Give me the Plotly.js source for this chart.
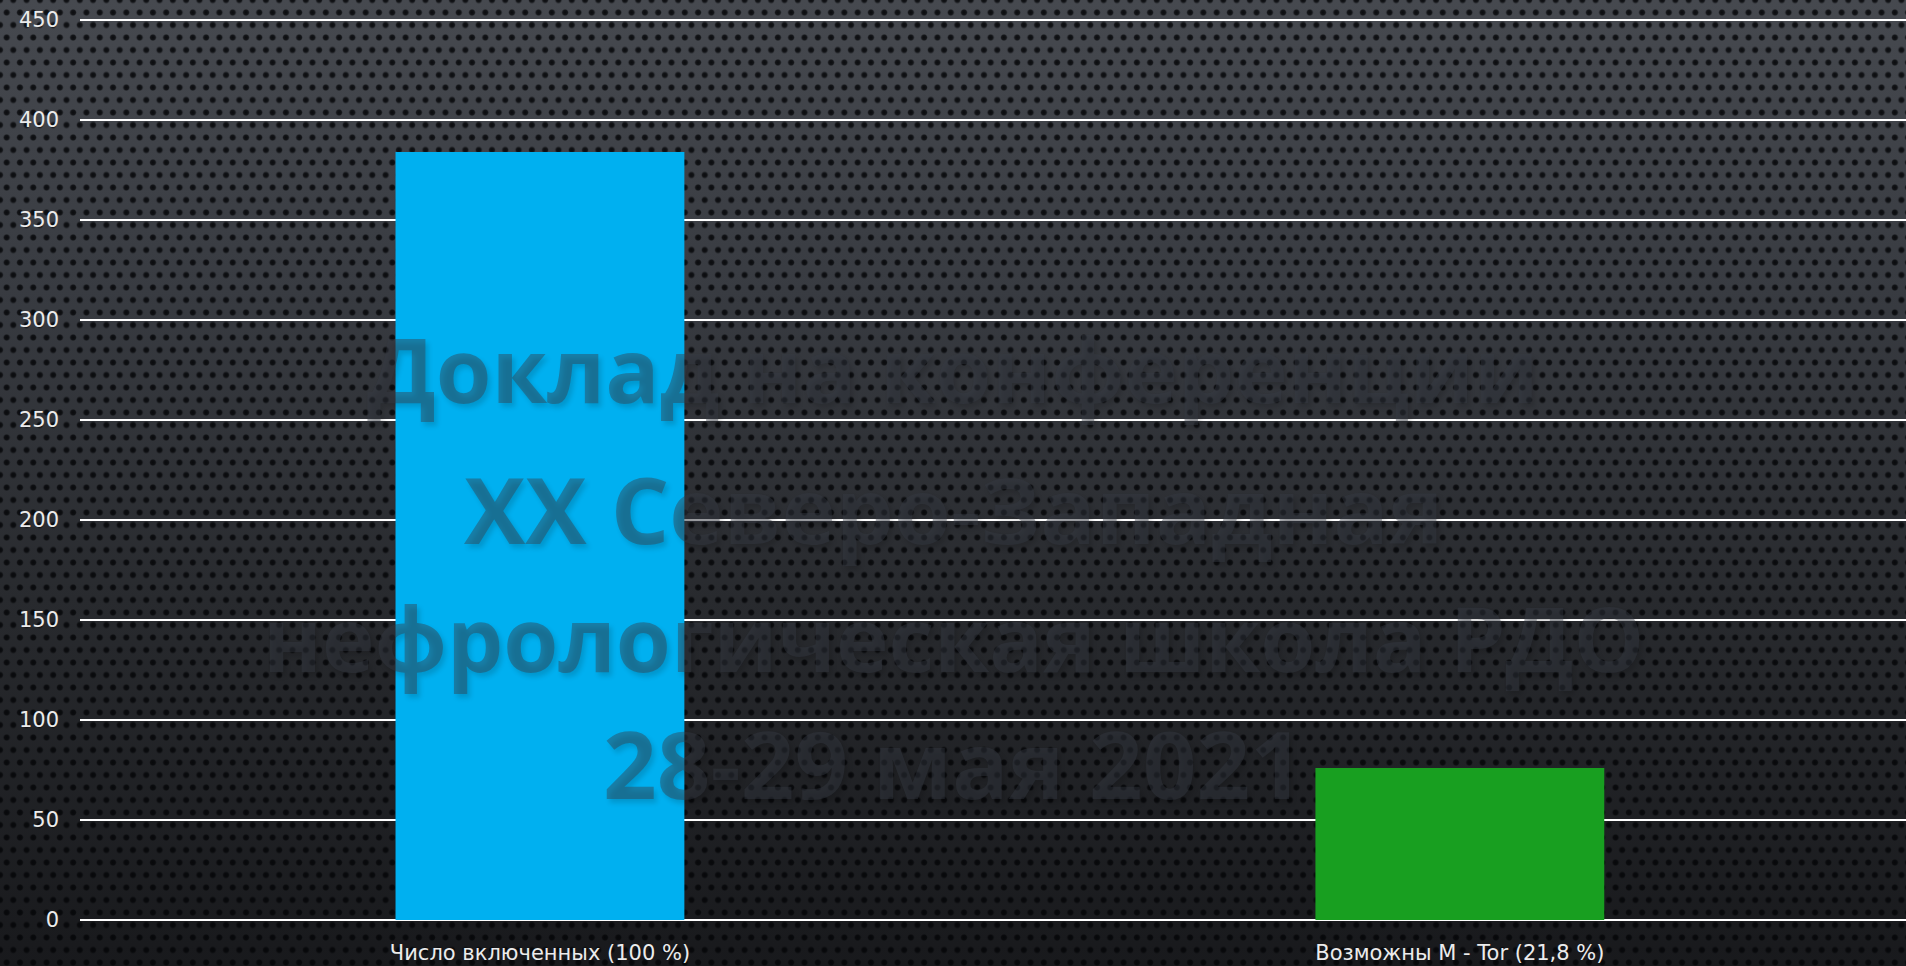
<!DOCTYPE html>
<html><head><meta charset="utf-8">
<script src="https://cdn.plot.ly/plotly-3.0.1.min.js"></script>
<style>
html,body{margin:0;padding:0;width:1906px;height:966px;overflow:hidden;}
body{background-color:#2a2c31;
background-image:
 radial-gradient(circle at 50% 50%, rgba(4,5,7,0.9) 0, rgba(4,5,7,0.75) 2.4px, rgba(4,5,7,0) 3.6px),
 radial-gradient(circle at 50% 50%, rgba(4,5,7,0.9) 0, rgba(4,5,7,0.75) 2.4px, rgba(4,5,7,0) 3.6px),
 linear-gradient(to bottom, #46494f 0%, #383b41 30%, #282a2e 62%, #18191c 100%);
background-size: 13.3px 25px, 13.3px 25px, 100% 100%;
background-position: 0 0, 6.65px 12.5px, 0 0;
}
#chart{width:1906px;height:966px;}
</style></head>
<body><div id="chart"></div>
<script>
const categories = ["Число включенных (100 %)", "Возможны M - Tor (21,8 %)"];
const values = [384, 76];
const barColors = ["#00B0F0", "#189F20"];
const watermarkLines = ["Доклад на конференции", "XX Северо-Западная", "нефрологическая школа РДО", "28-29 мая 2021"];

const L = 80, T = 18, W = 1906, H = 966, B = 46;
const pw = W - L, ph = H - T - B;
function px(x){return (x - L)/pw;}
function py(y){return (H - B - y)/ph;}

const wmY = [368, 508, 637, 763];
const wmSize = [90, 92, 89, 94];
const wmFont = {family: "Open Sans", color: "rgba(55,60,70,0.42)", weight: 700,
  shadow: "3px 4px 5px rgba(0,0,0,0.35)"};
const annotations = watermarkLines.map((t, i) => ({
  text: t, xref: "paper", yref: "paper", x: px(953), y: py(wmY[i]),
  xanchor: "center", yanchor: "middle", showarrow: false,
  font: Object.assign({}, wmFont, {size: wmSize[i]})
}));

const trace = {
  type: "bar", x: categories, y: values, width: 0.314,
  marker: {color: barColors}, hoverinfo: "none"
};
const tickFont = {family: "DejaVu Sans ExtraLight, DejaVu Sans, sans-serif", color: "#ececec"};
const layout = {
  width: W, height: H,
  margin: {l: L, r: 0, t: T, b: B, pad: 0},
  paper_bgcolor: "rgba(0,0,0,0)", plot_bgcolor: "rgba(0,0,0,0)",
  showlegend: false,
  xaxis: {type: "category", range: [-0.5, 1.485], showgrid: false, zeroline: false,
    showline: false, ticks: "", ticklabelstandoff: 18,
    tickfont: Object.assign({}, tickFont, {size: 21}), fixedrange: true},
  yaxis: {range: [0, 451], tickvals: [0,50,100,150,200,250,300,350,400,450],
    showgrid: true, gridcolor: "#ffffff", gridwidth: 2,
    zeroline: true, zerolinecolor: "#ffffff", zerolinewidth: 2, showline: false, ticks: "",
    ticklabelstandoff: 20, tickfont: Object.assign({}, tickFont, {size: 21}), fixedrange: true},
  annotations: annotations
};
Plotly.newPlot("chart", [trace], layout, {displayModeBar: false, staticPlot: true});
</script>
</body></html>
